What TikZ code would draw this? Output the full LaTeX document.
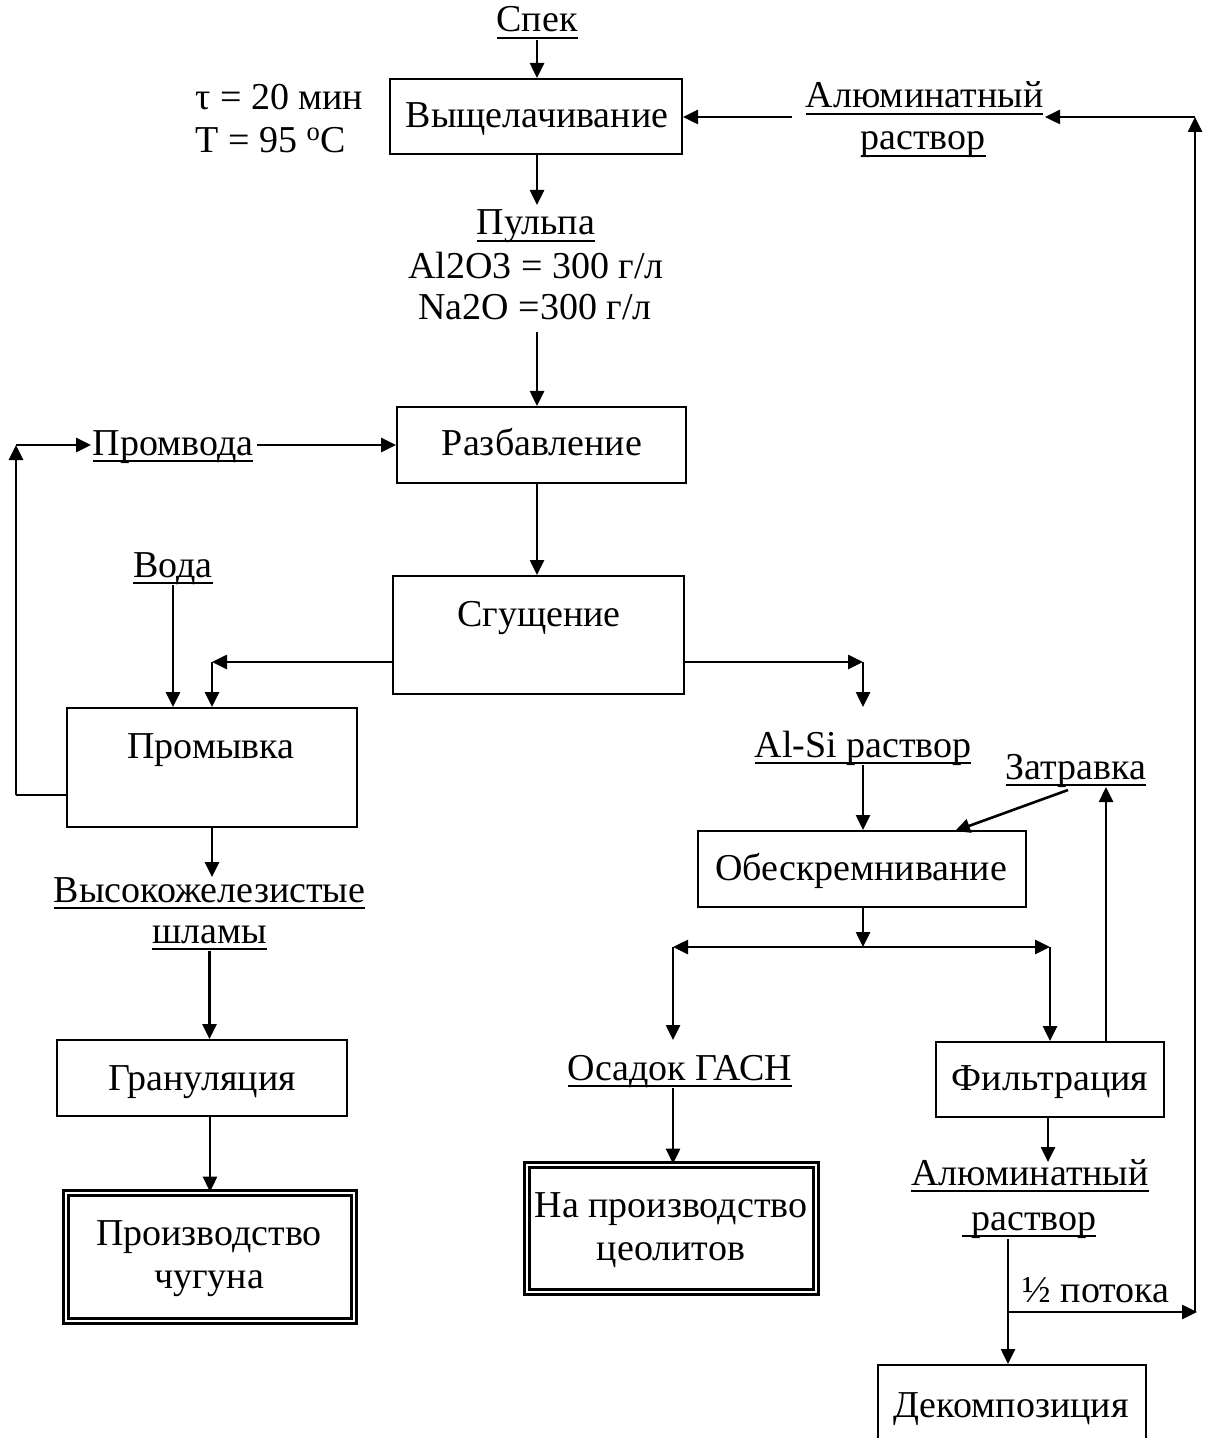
\documentclass[tikz,border=0pt]{standalone}
\usepackage{fontspec}
\setmainfont{Liberation Serif}
\usetikzlibrary{arrows.meta,calc}
\newcommand{\ulin}[1]{\setbox0=\hbox{#1}\rlap{\rule[-3.6pt]{\wd0}{0.9pt}}\box0}
\tikzset{
  box/.style={draw, line width=1pt, inner sep=0pt, rectangle},
  dbox/.style={draw, line width=1.3pt, double, double distance=1.2pt, inner sep=0pt, rectangle},
  lbl/.style={inner sep=0pt, anchor=base},
  lbll/.style={inner sep=0pt, anchor=base west},
  arr/.style={-{Triangle[length=7.5pt,width=7pt]}, line width=1.3pt},
  ln/.style={line width=1.3pt}
}
\begin{document}
\begin{tikzpicture}[x=0.5pt,y=-0.5pt,font=\fontsize{19}{23}\selectfont]
\useasboundingbox (0,0) rectangle (1205,1438);
% boxes
\node[box, minimum width=146pt, minimum height=37.5pt] (vysh) at (536,116.5) {};
\node[box, minimum width=144.5pt, minimum height=38pt] (razb) at (541.5,445) {};
\node[box, minimum width=145.5pt, minimum height=59pt] (sgush) at (538.5,635) {};
\node[box, minimum width=145pt, minimum height=59.5pt] (prom) at (212,767.5) {};
\node[box, minimum width=164pt, minimum height=38pt] (obes) at (862,869) {};
\node[box, minimum width=114pt, minimum height=37.5pt] (filt) at (1050,1079.5) {};
\node[box, minimum width=145pt, minimum height=38pt] (gran) at (202,1078) {};
\node[box, minimum width=134pt, minimum height=47.5pt] (dekomp) at (1012,1412.5) {};
\node[dbox, minimum width=144pt, minimum height=64pt] (chug) at (210,1257) {};
\node[dbox, minimum width=144.5pt, minimum height=63.5pt] (zeol) at (671.5,1228.5) {};
% box texts
\node[lbl] (tvysh) at (537,128) {Выщелачивание};
\node[lbl] (trazb) at (542,455) {Разбавление};
\node[lbl] (tsgush) at (539,626) {Сгущение};
\node[lbl] (tprom) at (211,758) {Промывка};
\node[lbl] (tobes) at (861,880) {Обескремнивание};
\node[lbl] (tfilt) at (1050,1090) {Фильтрация};
\node[lbl] (tgran) at (202,1090) {Грануляция};
\node[lbl] (tdekomp) at (1011,1417) {Декомпозиция};
\node[lbl] (tchug1) at (209,1245) {Производство};
\node[lbl] (tchug2) at (209,1288) {чугуна};
\node[lbl] (tzeol1) at (671,1217) {На производство};
\node[lbl] (tzeol2) at (671,1260) {цеолитов};
% labels
\node[lbl] (spek) at (537,32) {\ulin{Спек}};
\node[lbll] (tau) at (195,110) {τ = 20 мин};
\node[lbll] (temp) at (195,153) {T = 95 \textsuperscript{o}C};
\node[lbl] (alum1) at (924.5,108) {\ulin{Алюминатный}};
\node[lbl] (rastv1) at (923,150) {\ulin{раствор}};
\node[lbl] (pulpa) at (536,235) {\ulin{Пульпа}};
\node[lbl] (al2o3) at (536,279) {Al2O3 = 300 г/л};
\node[lbl] (na2o) at (535,320) {Na2O =300 г/л};
\node[lbl] (promvoda) at (173,455) {\ulin{Промвода}};
\node[lbl] (voda) at (173,577) {\ulin{Вода}};
\node[lbl] (alsi) at (863,757) {\ulin{Al-Si раствор}};
\node[lbl] (zatr) at (1076,779) {\ulin{Затравка}};
\node[lbl] (vys1) at (209.5,902) {\ulin{Высокожелезистые}};
\node[lbl] (vys2) at (209.5,943) {\ulin{шламы}};
\node[lbl] (osadok) at (680,1080) {\ulin{Осадок ГАСН}};
\node[lbl] (alum2) at (1030,1185) {\ulin{Алюминатный}};
\node[lbl] (rastv2) at (1029,1230) {\ulin{\ раствор}};
\node[lbl] (half) at (1096,1302) {½ потока};
% coordinates
\coordinate (pulpaTop) at (537,205);
\coordinate (naBot) at (537,332);
\coordinate (loopB) at (16,795);
\coordinate (loopT) at (16,445);
\coordinate (promIn) at (91,445);
\coordinate (lc) at (212,662);
\coordinate (rc) at (863,662);
\coordinate (rcd) at (863,707);
\coordinate (zatrFrom) at (1068,790);
\coordinate (zatrTo) at (955,831);
\coordinate (split) at (863,947);
\coordinate (splitL) at (673,947);
\coordinate (splitR) at (1050,947);
\coordinate (osadTip) at (673,1040);
\coordinate (zatrUp) at (1106,787);
\coordinate (alumTop) at (1048,1162);
\coordinate (br) at (1008,1312);
\coordinate (brR) at (1197,1312);
\coordinate (rtop) at (1195,117);
\coordinate (rbot) at (1195,1312);
\coordinate (alumR) at (1045,117);
\coordinate (alumL) at (792,117);
\coordinate (vysTip) at (212,877);
% connectors
\draw[arr] (spek.south) -- (spek.south |- vysh.north);
\draw[arr] (vysh.south -| pulpaTop) -- (pulpaTop);
\draw[arr] (naBot) -- (naBot |- razb.north);
\draw[arr] (alumL) -- (vysh.east |- alumL);
\draw[arr] (rbot) -- (rtop);
\draw[arr] (rtop) -- (alumR);
\draw[arr] ([xshift=1.5pt]promvoda.east |- loopT) -- (razb.west |- loopT);
\draw[ln] (prom.west |- loopB) -- (loopB);
\draw[arr] (loopB) -- (loopT);
\draw[arr] (loopT) -- (promIn);
\draw[arr] (razb.south -| naBot) -- (sgush.north -| naBot);
\draw[arr] (sgush.west |- lc) -- (lc);
\draw[arr] (lc) -- (lc |- prom.north);
\draw[arr] (voda.south) -- (voda.south |- prom.north);
\draw[arr] (sgush.east |- rc) -- (rc);
\draw[arr] (rc) -- (rcd);
\draw[arr] (alsi.south) -- (alsi.south |- obes.north);
\draw[arr] (zatrFrom) -- (zatrTo);
\draw[arr] (obes.south -| split) -- (split);
\draw[arr] (split) -- (splitL);
\draw[arr] (split) -- (splitR);
\draw[arr] (splitL) -- (osadTip);
\draw[arr] (splitR) -- (splitR |- filt.north);
\draw[arr] (osadTip |- osadok.south) -- (osadTip |- zeol.north);
\draw[arr] (filt.north -| zatrUp) -- (zatrUp);
\draw[arr] (filt.south -| alumTop) -- (alumTop);
\draw[arr] (br |- rastv2.south) -- (br |- dekomp.north);
\draw[arr] (br) -- (brR);
\draw[arr] (prom.south -| vysTip) -- (vysTip);
\draw[arr] (vys2.south) -- (vys2.south |- gran.north);
\draw[arr] (gran.south -| chug) -- (chug.north);
\end{tikzpicture}
\end{document}
